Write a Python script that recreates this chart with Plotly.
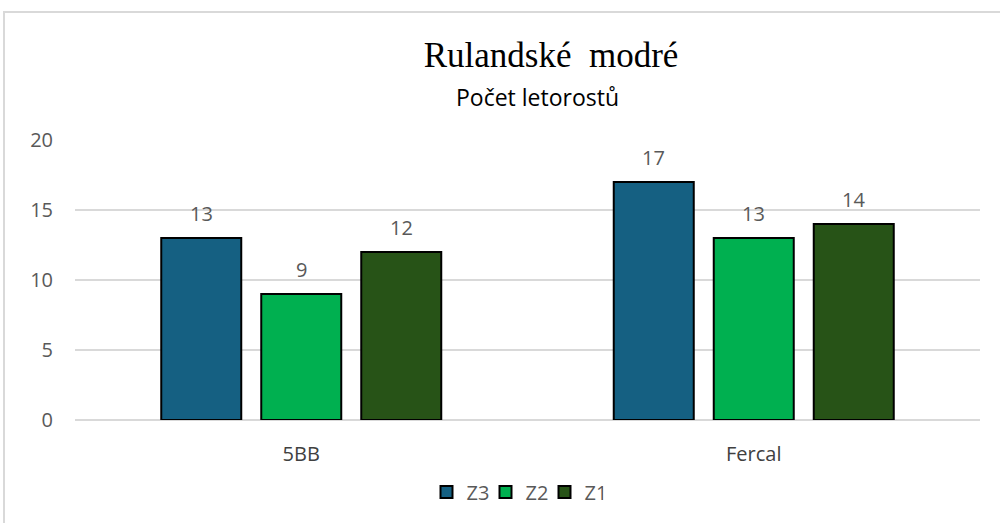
import plotly.graph_objects as go

categories = ["5BB", "Fercal"]
series_names = ["Z3", "Z2", "Z1"]
z3_values = [13, 17]
z2_values = [9, 13]
z1_values = [12, 14]
y_ticks = [0, 5, 10, 15, 20]
colors = ["#156082", "#00B050", "#275317"]

W, H = 1000, 523
L = 75
T = 140
B = H - 420
R = W - 980
pw, ph = W - L - R, H - T - B

def px_x(p):
    return (p - L) / pw

def px_y(p):
    return (H - B - p) / ph

fig = go.Figure()
all_vals = [z3_values, z2_values, z1_values]
for name, vals, col in zip(series_names, all_vals, colors):
    fig.add_trace(go.Bar(
        x=categories, y=vals, name=name,
        marker=dict(color=col, line=dict(color="#000000", width=2)),
    ))

annotations = []
bar_step_px = 100
for i, vals in enumerate(all_vals):
    for cat, v in zip(categories, vals):
        annotations.append(dict(
            x=cat, y=v, xref="x", yref="y", text=str(v), showarrow=False,
            xanchor="center", yanchor="middle", xshift=(i - 1) * bar_step_px, yshift=25,
            font=dict(family="Open Sans, sans-serif", size=20, color="#595959"),
        ))

annotations.append(dict(text="Počet letorostů", x=px_x(537), y=px_y(97), xref="paper", yref="paper",
                        xanchor="center", yanchor="middle", showarrow=False,
                        font=dict(family="Open Sans, sans-serif", size=23, color="#000000")))

fig.update_layout(
    width=W, height=H,
    margin=dict(l=L, r=R, t=T, b=B),
    paper_bgcolor="white", plot_bgcolor="white",
    barmode="group", bargap=0.337, bargroupgap=0.2,
    title=dict(text="Rulandské  modré", x=551 / W, xanchor="center", y=1 - 55 / H, yanchor="middle",
               font=dict(family="Liberation Serif, serif", size=35, color="#000000")),
    xaxis=dict(showgrid=False, showline=False, ticks="", ticklabelstandoff=20,
               tickfont=dict(family="Open Sans, sans-serif", size=20, color="#404040")),
    yaxis=dict(range=[0, 20], tickvals=y_ticks, showgrid=True, gridcolor="#D9D9D9", gridwidth=2,
               zeroline=True, zerolinecolor="#D9D9D9", zerolinewidth=2, showline=False, ticks="",
               ticklabelstandoff=21,
               tickfont=dict(family="Open Sans, sans-serif", size=20, color="#595959")),
    legend=dict(orientation="h", x=px_x(515), xanchor="center", y=px_y(492), yanchor="middle",
                font=dict(family="Open Sans, sans-serif", size=20, color="#595959"),
                itemwidth=30, entrywidth=14, entrywidthmode="pixels", tracegroupgap=0),
    showlegend=True,
    annotations=annotations,
    shapes=[dict(type="rect", xref="paper", yref="paper",
                 x0=px_x(4), x1=px_x(1020), y0=px_y(560), y1=px_y(12),
                 line=dict(color="#D9D9D9", width=2), fillcolor="rgba(0,0,0,0)", layer="below")],
)

fig.write_html("out.html", config={"displayModeBar": False},
               post_script="document.body.style.margin='0';")
